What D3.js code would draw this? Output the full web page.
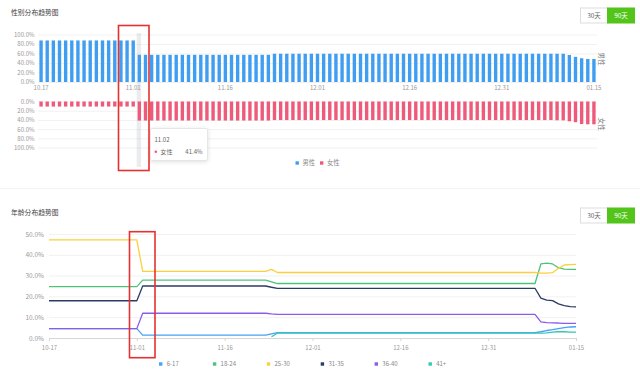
<!DOCTYPE html>
<html>
<head>
<meta charset="utf-8">
<script src="https://cdn.jsdelivr.net/npm/d3@7/dist/d3.min.js"></script>
<style>
body{margin:0;background:#fff;}
text{font-family:"Noto Sans CJK SC","Noto Sans",sans-serif;}
</style>
</head>
<body>
<svg id="chart" width="640" height="370"></svg>
<script>
// categories: 10.17 .. 01.15, 91 days
var days = d3.timeDay.range(new Date(2018, 9, 17), new Date(2019, 0, 16));
var dates = days.map(d3.timeFormat("%m.%d"));

var topTicks = ["10.17", "11.01", "11.16", "12.01", "12.16", "12.31", "01.15"];
var bottomTicks = ["10-17", "11-01", "11-16", "12-01", "12-16", "12-31", "01-15"];
var pctTicksTop = [0, 20, 40, 60, 80, 100];
var pctTicksBottom = [0, 10, 20, 30, 40, 50];

// gender (%)
var male = [
  87.5,87.5,87.5,87.5,87.5,87.5,87.5,87.5,87.5,87.5,87.5,87.5,87.5,87.5,87.5,87.5,
  57.2,57.2,57.2,57.2,57.2,57.2,57.2,57.2,57.2,57.2,57.2,57.2,57.2,57.2,57.2,57.2,57.2,57.2,57.2,57.2,57.2,57.2,
  59.5,59.5,59.5,59.5,59.5,59.5,59.5,59.5,59.5,59.5,59.5,59.5,59.5,59.5,59.5,59.5,
  59.5,59.5,59.5,59.5,59.5,59.5,59.5,59.5,59.5,59.5,59.5,59.5,59.5,59.5,59.5,59.5,
  59.5,59.5,59.5,59.5,59.5,59.5,59.5,59.5,59.5,59.5,59.5,59.5,59.5,59.5,59.5,59.5,
  56.8,53,50,48.5,48.5
];
var female = [
  11,11,11,11,11,11,11,11,11,11,11,11,11,11,11,11,
  41.4,41.4,41.4,41.4,41.4,41.4,41.4,41.4,41.4,41.4,41.4,41.4,41.4,41.4,41.4,41.4,41.4,41.4,41.4,41.4,41.4,41.4,
  40.3,40.3,40.3,40.3,40.3,40.3,40.3,40.3,40.3,40.3,40.3,40.3,40.3,40.3,40.3,40.3,
  40.3,40.3,40.3,40.3,40.3,40.3,40.3,40.3,40.3,40.3,40.3,40.3,40.3,40.3,40.3,40.3,
  40.3,40.3,40.3,40.3,40.3,40.3,40.3,40.3,40.3,40.3,40.3,40.3,40.3,40.3,40.8,41,
  43,45,49,49.6,49.6
];

// age groups (%)
var age617 = [
  4.5,4.5,4.5,4.5,4.5,4.5,4.5,4.5,4.5,4.5,4.5,4.5,4.5,4.5,4.5,4.5,
  1.4,1.4,1.4,1.4,1.4,1.4,1.4,1.4,1.4,1.4,1.4,1.4,1.4,1.4,1.4,1.4,1.4,1.4,1.4,1.4,1.4,1.4,
  2.0,
  2.6,2.6,2.6,2.6,2.6,2.6,2.6,2.6,2.6,2.6,2.6,2.6,2.6,2.6,2.6,2.6,2.6,2.6,2.6,2.6,2.6,2.6,2.6,
  2.6,2.6,2.6,2.6,2.6,2.6,2.6,2.6,2.6,2.6,2.6,2.6,2.6,2.6,2.6,2.6,2.6,2.6,2.6,2.6,2.6,2.6,
  3.0,3.6,4.0,4.5,5.0,5.3,5.4
];
var age1824 = [
  24.7,24.7,24.7,24.7,24.7,24.7,24.7,24.7,24.7,24.7,24.7,24.7,24.7,24.7,24.7,24.7,
  27.8,27.8,27.8,27.8,27.8,27.8,27.8,27.8,27.8,27.8,27.8,27.8,27.8,27.8,27.8,27.8,27.8,27.8,27.8,27.8,27.8,27.8,
  27.0,
  26.2,26.2,26.2,26.2,26.2,26.2,26.2,26.2,26.2,26.2,26.2,26.2,26.2,26.2,26.2,26.2,26.2,26.2,26.2,26.2,26.2,26.2,26.2,
  26.2,26.2,26.2,26.2,26.2,26.2,26.2,26.2,26.2,26.2,26.2,26.2,26.2,26.2,26.2,26.2,26.2,26.2,26.2,26.2,26.2,26.2,
  35.6,36.0,35.6,33.8,33.1,33.0,33.0
];
var age2530 = [
  47.2,47.2,47.2,47.2,47.2,47.2,47.2,47.2,47.2,47.2,47.2,47.2,47.2,47.2,47.2,47.2,
  32.0,32.0,32.0,32.0,32.0,32.0,32.0,32.0,32.0,32.0,32.0,32.0,32.0,32.0,32.0,32.0,32.0,32.0,32.0,32.0,32.0,32.0,
  33.0,
  31.5,31.5,31.5,31.5,31.5,31.5,31.5,31.5,31.5,31.5,31.5,31.5,31.5,31.5,31.5,31.5,31.5,31.5,31.5,31.5,31.5,31.5,31.5,
  31.5,31.5,31.5,31.5,31.5,31.5,31.5,31.5,31.5,31.5,31.5,31.5,31.5,31.5,31.5,31.5,31.5,31.5,31.5,31.5,31.5,31.5,
  31.2,31.2,31.4,33.5,35.1,35.3,35.4
];
var age3135 = [
  17.9,17.9,17.9,17.9,17.9,17.9,17.9,17.9,17.9,17.9,17.9,17.9,17.9,17.9,17.9,17.9,
  25.0,25.0,25.0,25.0,25.0,25.0,25.0,25.0,25.0,25.0,25.0,25.0,25.0,25.0,25.0,25.0,25.0,25.0,25.0,25.0,25.0,25.0,
  24.4,
  23.9,23.9,23.9,23.9,23.9,23.9,23.9,23.9,23.9,23.9,23.9,23.9,23.9,23.9,23.9,23.9,23.9,23.9,23.9,23.9,23.9,23.9,23.9,
  23.9,23.9,23.9,23.9,23.9,23.9,23.9,23.9,23.9,23.9,23.9,23.9,23.9,23.9,23.9,23.9,23.9,23.9,23.9,23.9,23.9,23.9,
  19.2,18.2,18.0,16.4,15.6,15.1,15.0
];
var age3640 = [
  4.5,4.5,4.5,4.5,4.5,4.5,4.5,4.5,4.5,4.5,4.5,4.5,4.5,4.5,4.5,4.5,
  11.9,11.9,11.9,11.9,11.9,11.9,11.9,11.9,11.9,11.9,11.9,11.9,11.9,11.9,11.9,11.9,11.9,11.9,11.9,11.9,11.9,11.9,
  11.6,
  11.4,11.4,11.4,11.4,11.4,11.4,11.4,11.4,11.4,11.4,11.4,11.4,11.4,11.4,11.4,11.4,11.4,11.4,11.4,11.4,11.4,11.4,11.4,
  11.4,11.4,11.4,11.4,11.4,11.4,11.4,11.4,11.4,11.4,11.4,11.4,11.4,11.4,11.4,11.4,11.4,11.4,11.4,11.4,11.4,11.4,
  7.8,7.4,7.3,7.2,7.0,7.0,7.0
];
var age41 = [
  null,null,null,null,null,null,null,null,null,null,null,null,null,null,null,null,
  null,null,null,null,null,null,null,null,null,null,null,null,null,null,null,null,null,null,null,null,null,null,
  0.6,
  2.3,2.3,2.3,2.3,2.3,2.3,2.3,2.3,2.3,2.3,2.3,2.3,2.3,2.3,2.3,2.3,2.3,2.3,2.3,2.3,2.3,2.3,2.3,
  2.3,2.3,2.3,2.3,2.3,2.3,2.3,2.3,2.3,2.3,2.3,2.3,2.3,2.3,2.3,2.3,2.3,2.3,2.3,2.3,2.3,2.3,
  2.3,2.5,2.8,3.0,3.0,2.8,2.8
];

var ageNames = ["6-17", "18-24", "25-30", "31-35", "36-40", "41+"];
var ageColors = ["#45a3f2", "#4fc27a", "#fbd03c", "#2c3a66", "#8a5ce8", "#32c6bb"];
var ageSeries = [age617, age1824, age2530, age3135, age3640, age41];

var svg = d3.select("#chart");
svg.append("rect").attr("width", 640).attr("height", 370).attr("fill", "#fff");

// ---------- headers ----------
function header(y, title) {
  svg.append("text").attr("x", 11).attr("y", y + 2.5)
    .style("font-size", "6.8px").attr("fill", "#444").text(title);
  var b = svg.append("g").attr("transform", "translate(580," + (y - 5) + ")");
  b.append("rect").attr("x", 0.5).attr("y", 0.5).attr("width", 27).attr("height", 15)
    .attr("fill", "#fff").attr("stroke", "#ddd");
  b.append("rect").attr("x", 27.5).attr("y", 0.5).attr("width", 27).attr("height", 15)
    .attr("fill", "#52c41a").attr("stroke", "#52c41a");
  b.append("text").attr("x", 14).attr("y", 10.3).attr("text-anchor", "middle")
    .style("font-size", "6.5px").attr("fill", "#666").text("30天");
  b.append("text").attr("x", 41).attr("y", 10.3).attr("text-anchor", "middle")
    .style("font-size", "6.5px").attr("fill", "#fff").text("90天");
}
header(12.5, "性别分布趋势图");
header(212.5, "年龄分布趋势图");

svg.append("line").attr("x1", 0).attr("x2", 640).attr("y1", 188.5).attr("y2", 188.5)
  .attr("stroke", "#f3f3f3");

// ---------- gender bars ----------
var maleColor = "#409ef2", femaleColor = "#ee5a7a";
var x = d3.scaleBand().domain(dates).range([38, 597]).paddingInner(0.45).paddingOuter(0.225);
var yM = d3.scaleLinear().domain([0, 100]).range([82, 34.5]);
var yF = d3.scaleLinear().domain([0, 100]).range([101.5, 147.5]);
var pct = function(d) { return d.toFixed(1) + "%"; };

function gridAxis(scale) {
  var g = svg.append("g").attr("transform", "translate(38,0)")
    .call(d3.axisLeft(scale).tickValues(pctTicksTop).tickFormat(pct).tickSize(-559).tickPadding(3.5));
  g.select(".domain").remove();
  g.selectAll(".tick line").attr("stroke", "#f1f1f1");
  g.selectAll(".tick text").attr("fill", "#999").style("font-size", "6px");
}
gridAxis(yM);
gridAxis(yF);

// hover shadow on 11.02
svg.append("rect")
  .attr("x", x("11.02") - 1).attr("width", x.bandwidth() + 1)
  .attr("y", 33).attr("height", 134)
  .attr("fill", "rgba(160,170,185,0.22)");

svg.append("g").selectAll("rect").data(male).join("rect")
  .attr("x", function(d, i) { return x(dates[i]); })
  .attr("width", x.bandwidth())
  .attr("y", function(d) { return yM(d); })
  .attr("height", function(d) { return yM(0) - yM(d); })
  .attr("fill", maleColor);

svg.append("g").selectAll("rect").data(female).join("rect")
  .attr("x", function(d, i) { return x(dates[i]); })
  .attr("width", x.bandwidth())
  .attr("y", yF(0))
  .attr("height", function(d) { return yF(d) - yF(0); })
  .attr("fill", femaleColor);

var gx = svg.append("g").attr("transform", "translate(0,82)")
  .call(d3.axisBottom(x).tickValues(topTicks).tickSize(0).tickPadding(3.5));
gx.select(".domain").remove();
gx.selectAll(".tick text").attr("fill", "#999").style("font-size", "6px");

// series end labels
var lastX = x(dates[dates.length - 1]) + x.bandwidth() + 5.5;
svg.append("text").attr("transform", "translate(" + lastX + "," + yM(male[male.length - 1]) + ") rotate(90)")
  .attr("text-anchor", "middle").attr("dy", "0.35em")
  .style("font-size", "6.5px").attr("fill", "#777").text("男性");
svg.append("text").attr("transform", "translate(" + lastX + "," + yF(female[female.length - 1]) + ") rotate(90)")
  .attr("text-anchor", "middle").attr("dy", "0.35em")
  .style("font-size", "6.5px").attr("fill", "#777").text("女性");

// legend
[["男性", maleColor, 295.5], ["女性", femaleColor, 320]].forEach(function(l) {
  svg.append("rect").attr("x", l[2]).attr("y", 161.3).attr("width", 3.4).attr("height", 3.4).attr("fill", l[1]);
  svg.append("text").attr("x", l[2] + 7).attr("y", 165.2)
    .style("font-size", "6.3px").attr("fill", "#888").text(l[0]);
});

// tooltip
var tip = svg.append("g").attr("transform", "translate(150,128)");
tip.append("rect").attr("x", 0.5).attr("y", 0.5).attr("width", 57).attr("height", 32).attr("rx", 1.5)
  .attr("fill", "#fff").attr("stroke", "#e6e6e6")
  .style("filter", "drop-shadow(0px 1px 2px rgba(0,0,0,0.12))");
tip.append("text").attr("x", 4.5).attr("y", 13.5).style("font-size", "6px").attr("fill", "#666").text("11.02");
tip.append("circle").attr("cx", 5.8).attr("cy", 23.8).attr("r", 1.3).attr("fill", femaleColor);
tip.append("text").attr("x", 10.5).attr("y", 26).style("font-size", "6px").attr("fill", "#666").text("女性");
tip.append("text").attr("x", 52.5).attr("y", 26).attr("text-anchor", "end")
  .style("font-size", "6px").attr("fill", "#666").text(pct(female[dates.indexOf("11.02")]));

// ---------- age lines ----------
var x2 = d3.scalePoint().domain(dates).range([49, 576]);
var y2 = d3.scaleLinear().domain([0, 50]).range([338, 234]);

var gy2 = svg.append("g").attr("transform", "translate(49,0)")
  .call(d3.axisLeft(y2).tickValues(pctTicksBottom).tickFormat(pct).tickSize(-527).tickPadding(5));
gy2.select(".domain").remove();
gy2.selectAll(".tick line").attr("stroke", "#f1f1f1");
gy2.selectAll(".tick text").attr("fill", "#999").style("font-size", "6.5px");

var bottomMap = {};
topTicks.forEach(function(t, i) { bottomMap[t] = bottomTicks[i]; });
var gx2 = svg.append("g").attr("transform", "translate(0,338)")
  .call(d3.axisBottom(x2).tickValues(topTicks).tickSize(3).tickPadding(4.5)
    .tickFormat(function(d) { return bottomMap[d]; }));
gx2.select(".domain").attr("stroke", "#d6d6d6");
gx2.selectAll(".tick line").attr("stroke", "#d6d6d6");
gx2.selectAll(".tick text").attr("fill", "#999").style("font-size", "6px");

var line = d3.line()
  .defined(function(d) { return d != null; })
  .x(function(d, i) { return x2(dates[i]); })
  .y(function(d) { return y2(d); });

ageSeries.forEach(function(s, k) {
  svg.append("path").attr("d", line(s))
    .attr("fill", "none").attr("stroke", ageColors[k]).attr("stroke-width", 1.3)
    .attr("stroke-linejoin", "round");
});

ageNames.forEach(function(n, k) {
  var lx = 159 + k * 53.9;
  svg.append("rect").attr("x", lx).attr("y", 362.3).attr("width", 3.4).attr("height", 3.4).attr("fill", ageColors[k]);
  svg.append("text").attr("x", lx + 7.7).attr("y", 366.3)
    .style("font-size", "6px").attr("fill", "#888").text(n);
});

// red marker boxes drawn over the 11.01/11.02 change
svg.append("rect").attr("x", 118.5).attr("y", 25.5).attr("width", 30.5).attr("height", 145)
  .attr("fill", "none").attr("stroke", "#e5312f").attr("stroke-width", 1.6);
svg.append("rect").attr("x", 129.5).attr("y", 231.7).attr("width", 25.5).attr("height", 126)
  .attr("fill", "none").attr("stroke", "#e5312f").attr("stroke-width", 1.6);
</script>
</body>
</html>
